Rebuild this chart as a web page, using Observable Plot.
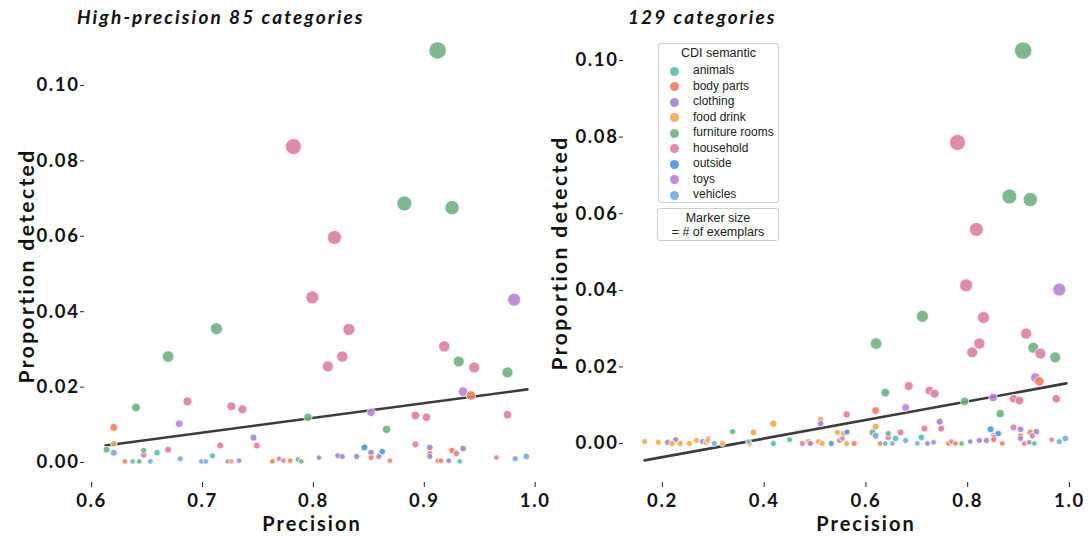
<!DOCTYPE html>
<html>
<head>
<meta charset="utf-8">
<script src="https://cdn.jsdelivr.net/npm/d3@7"></script>
<script src="https://cdn.jsdelivr.net/npm/@observablehq/plot@0.6"></script>
<style>
  html, body { margin: 0; padding: 0; background: white; }
  #wrap { position: relative; width: 1091px; height: 537px; overflow: hidden; background: white; }
  .panel { position: absolute; top: 0; }
  .title { position: absolute; font-family: Lato, sans-serif; font-weight: bold; font-style: italic; font-size: 19px; letter-spacing: 2.1px; white-space: nowrap; color: #111; }
  .xlab { position: absolute; font-family: Lato, sans-serif; font-weight: bold; font-size: 20px; letter-spacing: 2px; white-space: nowrap; color: #111; transform: translate(-50%, -50%); }
  .ylab { position: absolute; font-family: Lato, sans-serif; font-weight: bold; font-size: 21px; letter-spacing: 2.4px; white-space: nowrap; color: #111; transform: translate(-50%, -50%) rotate(-90deg); }
  .legend { position: absolute; border: 1px solid #cfcfcf; border-radius: 3px; background: white; font-family: "Liberation Sans", Arial, sans-serif; color: #222; box-sizing: border-box; }
  .legend .head { text-align: center; font-size: 12.5px; margin-top: 2px; margin-bottom: 3px; }
  .legend .item { position: relative; height: 15.5px; font-size: 12px; line-height: 15.5px; }
  .legend .sw { position: absolute; left: 11px; top: 3.5px; width: 9px; height: 9px; border-radius: 50%; opacity: 0.88; }
  .legend .lab { position: absolute; left: 34px; top: 0; white-space: nowrap; }
  .sizebox { text-align: center; font-size: 12.5px; line-height: 14px; padding-top: 2px; }
</style>
</head>
<body>
<div id="wrap"></div>
<script>
// ---- categories & colours ----
const categories = ["animals", "body parts", "clothing", "food drink", "furniture rooms", "household", "outside", "toys", "vehicles"];
const categoryColors = ["#4dbda9", "#ee7b5f", "#9b7fcc", "#eda84f", "#6bae7e", "#dc7ba2", "#4a8fd9", "#b77fd1", "#70a7dc"];
const codeToCategory = {A: "animals", B: "body parts", C: "clothing", F: "food drink", R: "furniture rooms", H: "household", O: "outside", T: "toys", V: "vehicles"};

// ---- left panel: high-precision 85 categories ----
const leftPrecision = [0.912,0.782,0.882,0.925,0.819,0.799,0.981,0.832,0.7126,0.826,0.669,0.813,0.918,0.931,0.945,0.975,0.6865,0.64,0.726,0.736,0.62,0.679,0.795,0.852,0.746,0.935,0.942,0.892,0.902,0.975,0.866,0.62,0.6135,0.62,0.716,0.749,0.669,0.647,0.647,0.659,0.709,0.68,0.63,0.637,0.643,0.653,0.699,0.703,0.723,0.726,0.733,0.763,0.769,0.773,0.779,0.786,0.789,0.805,0.822,0.826,0.839,0.846,0.852,0.852,0.862,0.859,0.869,0.892,0.905,0.905,0.905,0.925,0.929,0.935,0.912,0.915,0.922,0.932,0.965,0.982,0.992];
const leftProportion = [0.1093,0.0838,0.0687,0.0676,0.0597,0.0438,0.0432,0.0353,0.0355,0.0281,0.0281,0.0255,0.0308,0.0268,0.0252,0.0239,0.0162,0.0146,0.0149,0.0141,0.0093,0.0103,0.012,0.0133,0.0066,0.0188,0.0178,0.0125,0.012,0.0127,0.0088,0.005,0.0034,0.0026,0.0045,0.0045,0.0034,0.0032,0.002,0.0026,0.0018,0.001,0.0003,0.0003,0.0003,0.0003,0.0003,0.0003,0.0003,0.0003,0.0005,0.0003,0.001,0.0005,0.0005,0.0008,0.0003,0.0013,0.0018,0.0016,0.0016,0.004,0.0026,0.0013,0.0029,0.0016,0.0005,0.0048,0.004,0.0024,0.0016,0.0032,0.0024,0.0037,0.0005,0.0005,0.0005,0.0003,0.0013,0.001,0.0016];
const leftCategory = "RHRRHHTHRHRHHRHRHRHHBTRTCTBHHHRFRVHHHRHAAVBARVVVCFCBHHBRRCCCCOCBOCBHCBCBHCBBCAHVV".split("");
const leftExemplars = [100,85,74,68,65,56,56,48,48,42,45,40,42,40,40,40,27,25,27,27,20,20,22,24,16,30,30,24,24,24,22,14,16,16,16,16,16,12,14,14,12,12,10,10,10,10,10,10,10,10,10,10,10,10,10,10,10,10,12,12,12,16,14,12,14,12,10,16,14,12,12,14,14,14,10,10,10,10,10,12,14];
const leftFitX = [0.6126, 0.993];
const leftFitY = [0.0045, 0.0194];

// ---- right panel: 129 categories ----
const rightPrecision = [0.909,0.780,0.882,0.923,0.817,0.797,0.980,0.831,0.711,0.823,0.62,0.809,0.915,0.929,0.943,0.972,0.684,0.638,0.725,0.735,0.619,0.678,0.794,0.85,0.745,0.933,0.941,0.89,0.902,0.974,0.864,0.619,0.613,0.619,0.715,0.748,0.668,0.644,0.644,0.658,0.709,0.678,0.628,0.638,0.652,0.701,0.721,0.733,0.762,0.768,0.776,0.788,0.805,0.823,0.837,0.845,0.851,0.86,0.852,0.851,0.868,0.89,0.904,0.904,0.904,0.911,0.923,0.927,0.935,0.921,0.931,0.965,0.98,0.992,0.165,0.192,0.21,0.226,0.219,0.235,0.253,0.267,0.279,0.29,0.286,0.289,0.302,0.318,0.338,0.369,0.371,0.379,0.418,0.418,0.45,0.475,0.487,0.491,0.507,0.514,0.511,0.511,0.532,0.548,0.544,0.556,0.563,0.562,0.554,0.562,0.577];
const rightProportion = [0.1026,0.0786,0.0645,0.0637,0.0559,0.0413,0.0402,0.0329,0.0332,0.0261,0.0261,0.0238,0.0287,0.025,0.0235,0.0225,0.015,0.0133,0.0138,0.013,0.0086,0.0094,0.011,0.012,0.0057,0.0172,0.0162,0.0117,0.0112,0.0117,0.0078,0.0044,0.0029,0.002,0.0039,0.0039,0.0029,0.0026,0.0016,0.0013,0.0016,0.0008,0,0,0,0,0,0.0003,0,0.0005,0,0,0.0005,0.0008,0.0008,0.0037,0.002,0.0026,0.0016,0.001,0,0.0042,0.0037,0.002,0.0013,0,0.0029,0.002,0.0031,0.0003,0,0.001,0.0005,0.0013,0.0005,0.0003,0.0003,0.001,0,0,0,0.0008,0.0005,0.0013,0.0003,0.0008,0,0,0.0031,0.0005,0,0.0029,0.0052,0,0.001,0,0.0005,0,0.0005,0,0.0063,0.0052,0,0.0008,0.0029,0.0026,0.003,0.0076,0.0013,0,0];
const rightCategory = "RHRRHHTHRHRHHRHRHRHHBTRTCTBHHHRFRVHHHRHAAVBAVVCCBHBRCCCOCOCBBHCBCBBHCCAHVVFFCCFFFFCHFFVFRVFFFAAHFCFFFCOHFFOHHFB".split("");
const rightExemplars = [100,85,74,68,65,56,56,48,48,42,45,40,42,40,40,40,27,25,27,27,20,20,22,24,16,30,30,24,24,24,22,16,16,16,16,16,16,12,14,14,14,12,10,10,10,10,10,10,10,10,10,10,10,12,12,16,14,14,12,12,10,16,14,12,12,10,14,14,14,10,10,10,12,14,12,12,12,12,12,12,12,12,12,10,12,10,12,12,12,10,12,16,18,12,12,12,12,12,12,12,14,14,12,12,12,12,12,18,10,12,12];
const rightFitX = [0.165, 0.994];
const rightFitY = [-0.0044, 0.0157];

// ---- tick values ----
const leftXTicks = [0.6, 0.7, 0.8, 0.9, 1.0];
const rightXTicks = [0.2, 0.4, 0.6, 0.8, 1.0];
const yTicks = [0, 0.02, 0.04, 0.06, 0.08, 0.10];

function rows(px, py, pc, pn) {
  return px.map((x, i) => ({x, y: py[i], cat: codeToCategory[pc[i]], n: pn[i]}));
}
const leftData = rows(leftPrecision, leftProportion, leftCategory, leftExemplars);
const rightData = rows(rightPrecision, rightProportion, rightCategory, rightExemplars);
const leftFit = leftFitX.map((x, i) => ({x, y: leftFitY[i]}));
const rightFit = rightFitX.map((x, i) => ({x, y: rightFitY[i]}));

function panel({data, fit, width, marginLeft, marginRight, xDomain, yDomain, xTicks}) {
  return Plot.plot({
    width, height: 537,
    marginLeft, marginRight, marginTop: 29, marginBottom: 55,
    style: {fontFamily: "Lato, sans-serif", fontSize: "18.5px", fontWeight: "bold", letterSpacing: "1.6px", color: "#111", background: "transparent", overflow: "visible"},
    x: {domain: xDomain, label: null},
    y: {domain: yDomain, label: null},
    r: {type: "sqrt", domain: [0, 100], range: [0, 8.7]},
    color: {domain: categories, range: categoryColors},
    marks: [
      Plot.axisX({ticks: xTicks, tickFormat: d3.format(".1f"), tickSize: 5, tickPadding: 6, stroke: "#222", strokeWidth: 1, label: null}),
      Plot.axisY({ticks: yTicks, tickFormat: d3.format(".2f"), tickSize: 4, tickPadding: 1, stroke: "#222", strokeWidth: 1, label: null}),
      Plot.line(fit, {x: "x", y: "y", stroke: "#3b3b3b", strokeWidth: 2.6}),
      Plot.dot(data, {x: "x", y: "y", r: "n", fill: "cat", fillOpacity: 0.88, stroke: "white", strokeWidth: 0.8})
    ]
  });
}

const wrap = document.getElementById("wrap");

const right = panel({data: rightData, fit: rightFit, width: 551, marginLeft: 83, marginRight: 4,
  xDomain: [0.1235, 1.0355], yDomain: [-0.01018, 0.1081], xTicks: rightXTicks});
const rightDiv = document.createElement("div");
rightDiv.className = "panel"; rightDiv.style.left = "540px";
rightDiv.appendChild(right); wrap.appendChild(rightDiv);

const left = panel({data: leftData, fit: leftFit, width: 560, marginLeft: 84, marginRight: 12,
  xDomain: [0.5936, 1.012], yDomain: [-0.0053, 0.11485], xTicks: leftXTicks});
const leftDiv = document.createElement("div");
leftDiv.className = "panel"; leftDiv.style.left = "0px";
leftDiv.appendChild(left); wrap.appendChild(leftDiv);

function addText(cls, text, x, y) {
  const d = document.createElement("div");
  d.className = cls; d.textContent = text;
  d.style.left = x + "px"; d.style.top = y + "px";
  wrap.appendChild(d);
  return d;
}
addText("title", "High-precision 85 categories", 77, 5);
addText("title", "129 categories", 628, 5);
addText("xlab", "Precision", 312, 523);
addText("xlab", "Precision", 866, 523);
addText("ylab", "Proportion detected", 25, 266);
addText("ylab", "Proportion detected", 558, 253);

// legend
const lg = document.createElement("div");
lg.className = "legend";
Object.assign(lg.style, {left: "658px", top: "43px", width: "121px", height: "160px"});
const head = document.createElement("div");
head.className = "head"; head.textContent = "CDI semantic";
lg.appendChild(head);
categories.forEach((c, i) => {
  const it = document.createElement("div");
  it.className = "item";
  const sw = document.createElement("div");
  sw.className = "sw"; sw.style.background = categoryColors[i];
  const lb = document.createElement("div");
  lb.className = "lab"; lb.textContent = c;
  it.appendChild(sw); it.appendChild(lb);
  lg.appendChild(it);
});
wrap.appendChild(lg);

const sb = document.createElement("div");
sb.className = "legend sizebox";
Object.assign(sb.style, {left: "657px", top: "208px", width: "122px", height: "33px"});
sb.innerHTML = "Marker size<br>= # of exemplars";
wrap.appendChild(sb);
</script>
</body>
</html>
